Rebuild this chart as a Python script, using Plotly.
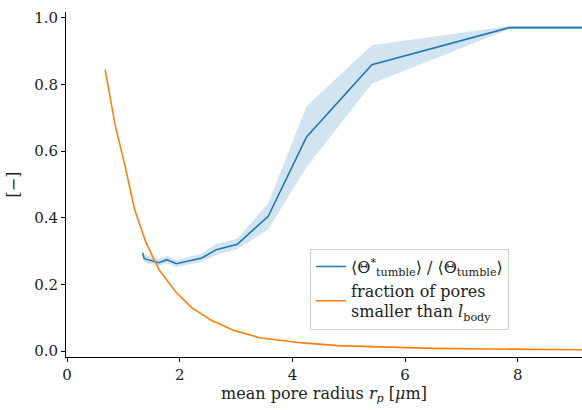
import plotly.graph_objects as go

# Blue series: ratio of tumble angles, with band
r_blue = [1.34, 1.37, 1.63, 1.77, 1.94, 2.39, 2.65, 3.02, 3.57, 4.25, 5.41, 7.85, 10.0]
ratio_mean = [0.294, 0.277, 0.265, 0.274, 0.262, 0.279, 0.304, 0.320, 0.404, 0.642, 0.859, 0.970, 0.970]
ratio_low = [0.278, 0.265, 0.255, 0.263, 0.252, 0.268, 0.289, 0.305, 0.365, 0.552, 0.802, 0.966, 0.966]
ratio_high = [0.300, 0.290, 0.276, 0.286, 0.273, 0.292, 0.322, 0.337, 0.443, 0.734, 0.917, 0.975, 0.975]

# Orange series: fraction of pores smaller than body length
r_orange = [0.675, 0.85, 1.03, 1.20, 1.40, 1.63, 1.93, 2.21, 2.56, 2.95, 3.42, 4.13, 4.8, 5.5, 6.5, 7.5, 8.5, 9.5]
frac_small = [0.844, 0.68, 0.553, 0.424, 0.325, 0.244, 0.177, 0.130, 0.092, 0.062, 0.040, 0.025, 0.016, 0.012, 0.008, 0.006, 0.004, 0.003]

x_ticks = [0, 2, 4, 6, 8]
y_ticks = [0.0, 0.2, 0.4, 0.6, 0.8, 1.0]

C0 = "#1f77b4"
C1 = "#ff7f0e"
FONT = "DejaVu Serif, Liberation Serif, serif"

fig = go.Figure()
fig.add_trace(go.Scatter(x=r_blue, y=ratio_low, mode="lines", line=dict(width=0),
                         showlegend=False, hoverinfo="skip"))
fig.add_trace(go.Scatter(x=r_blue, y=ratio_high, mode="lines", line=dict(width=0),
                         fill="tonexty", fillcolor="rgba(31,119,180,0.2)",
                         showlegend=False, hoverinfo="skip"))
fig.add_trace(go.Scatter(x=r_blue, y=ratio_mean, mode="lines",
                         line=dict(color=C0, width=1.6),
                         name="⟨Θ<sup>*</sup><sub>tumble</sub>⟩ / ⟨Θ<sub>tumble</sub>⟩"))
fig.add_trace(go.Scatter(x=r_orange, y=frac_small, mode="lines",
                         line=dict(color=C1, width=1.6),
                         name="fraction of pores<br>smaller than <i>l</i><sub>body</sub>"))

fig.update_layout(
    width=582, height=410,
    margin=dict(l=66, r=0, t=12, b=53),
    paper_bgcolor="white", plot_bgcolor="white",
    font=dict(family=FONT, size=15, color="#222222"),
    legend=dict(x=0.473, y=0.314, xanchor="left", yanchor="top", traceorder="normal",
                bordercolor="#d0d0d0", borderwidth=1, bgcolor="rgba(255,255,255,0.8)",
                font=dict(family=FONT, size=16), tracegroupgap=4),
    xaxis=dict(range=[-0.02, 9.14], tickvals=x_ticks, ticktext=[str(v) for v in x_ticks],
               showline=True, linecolor="black", linewidth=1, mirror=False, automargin=False,
               ticks="outside", ticklen=4, tickcolor="black", showgrid=False, zeroline=False,
               title=dict(text="mean pore radius <i>r</i><sub><i>p</i></sub> [<i>μ</i>m]",
                          font=dict(family=FONT, size=16), standoff=4)),
    yaxis=dict(range=[-0.018, 1.017], tickvals=y_ticks, ticktext=[f"{v:.1f}" for v in y_ticks],
               showline=True, linecolor="black", linewidth=1, mirror=False, automargin=False,
               ticks="outside", ticklen=4, tickcolor="black", showgrid=False, zeroline=False,
               title=dict(text="[−]", font=dict(family=FONT, size=16), standoff=10)),
)

fig.write_html("out.html", config={"displayModeBar": False},
               post_script="document.body.style.margin='0';document.body.style.overflow='hidden';")
